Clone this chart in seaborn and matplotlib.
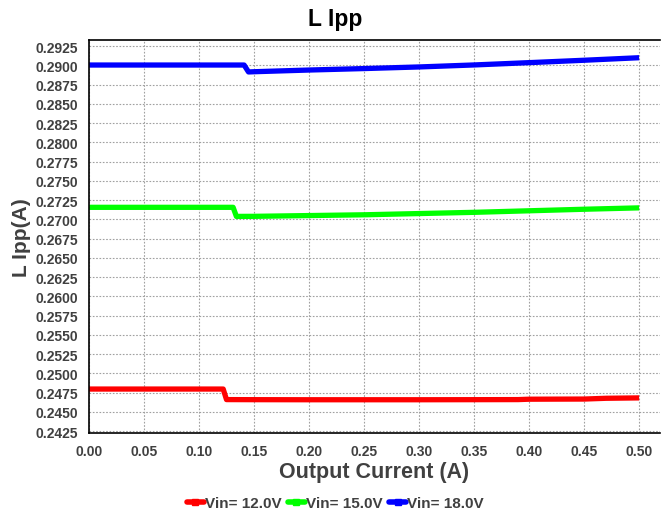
import matplotlib
matplotlib.use("Agg")
import matplotlib.pyplot as plt
import seaborn as sns
import pandas as pd
from matplotlib.lines import Line2D

# Data
x12 = [0.00, 0.05, 0.10, 0.122, 0.125, 0.15, 0.20, 0.25, 0.30, 0.35, 0.39, 0.40, 0.45, 0.47, 0.50]
y12 = [0.24795, 0.24795, 0.24795, 0.24795, 0.24658, 0.24657, 0.24656, 0.24656, 0.24656, 0.24657, 0.24658, 0.24663, 0.24665, 0.24675, 0.24680]

x15 = [0.00, 0.05, 0.10, 0.131, 0.134, 0.15, 0.20, 0.25, 0.30, 0.35, 0.40, 0.45, 0.50]
y15 = [0.27155, 0.27155, 0.27155, 0.27155, 0.27037, 0.27038, 0.27048, 0.27058, 0.27074, 0.27090, 0.27110, 0.27130, 0.27148]

x18 = [0.00, 0.05, 0.10, 0.141, 0.145, 0.15, 0.20, 0.25, 0.30, 0.35, 0.40, 0.45, 0.50]
y18 = [0.29003, 0.29003, 0.29003, 0.29003, 0.28913, 0.28916, 0.28938, 0.28957, 0.28978, 0.29004, 0.29034, 0.29065, 0.29098]

series_names = ["Vin= 12.0V", "Vin= 15.0V", "Vin= 18.0V"]
colors = ["#ff0000", "#00ff00", "#0000ff"]

xticks = [0.00, 0.05, 0.10, 0.15, 0.20, 0.25, 0.30, 0.35, 0.40, 0.45, 0.50]
yticks = [0.2425 + 0.0025 * i for i in range(21)]

frames = []
for name, xs, ys in zip(series_names, [x12, x15, x18], [y12, y15, y18]):
    frames.append(pd.DataFrame({"x": xs, "y": ys, "series": name}))
df = pd.concat(frames, ignore_index=True)

sns.set_style("white")
plt.rcParams["font.family"] = ["Liberation Sans", "DejaVu Sans"]
txt = "#404040"

fig = plt.figure(figsize=(6.61, 5.10), dpi=100)
ax = fig.add_axes([0.1346, 0.149, 0.8639, 0.7706])

sns.lineplot(data=df, x="x", y="y", hue="series", palette=colors,
             linewidth=3.8, ax=ax, legend=False, sort=False)
for ln in ax.get_lines():
    ln.set_solid_capstyle("butt")

ax.set_xlim(0.0, 0.519)
ax.set_ylim(0.24224, 0.29328)
ax.set_xticks(xticks)
ax.set_xticklabels([f"{v:.2f}" for v in xticks])
ax.set_yticks(yticks)
ax.set_yticklabels([f"{v:.4f}" for v in yticks])
ax.tick_params(axis="both", labelsize=10, colors=txt, length=0, pad=8)
for lab in ax.get_xticklabels() + ax.get_yticklabels():
    lab.set_fontweight("bold")

ax.grid(True, color="#a0a0a0", linestyle=(0, (1.5, 1.5)), linewidth=0.8)
for side in ["left", "bottom", "top"]:
    ax.spines[side].set_color("black")
    ax.spines[side].set_linewidth(1.2)
ax.spines["right"].set_visible(False)

fig.text(0.507, 0.961, "L Ipp", fontsize=16.5, fontweight="bold", color="black",
         ha="center", va="center")
ax.set_xlabel("Output Current (A)", fontsize=15.5, fontweight="bold", color=txt, labelpad=2)
ax.set_ylabel("L Ipp(A)", fontsize=15, fontweight="bold", color=txt, labelpad=3)

handles = [Line2D([0], [0], color=c, linewidth=4, marker="s", markersize=5) for c in colors]
fig.legend(handles, series_names, loc="center", bbox_to_anchor=(0.5076, 0.011),
           ncol=3, frameon=False, handlelength=1.1, handletextpad=0.1, columnspacing=0.4,
           prop={"weight": "bold", "size": 11}, labelcolor=txt)

fig.savefig("out.png", dpi=100)
